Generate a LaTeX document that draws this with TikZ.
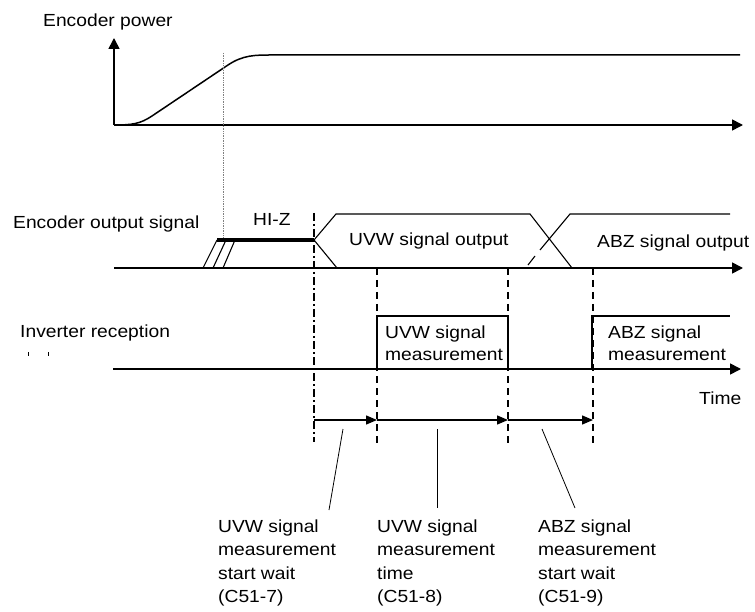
\documentclass[tikz,border=0pt]{standalone}
\usepackage{fontspec}
\setmainfont{Liberation Sans}[FakeStretch=1.1]
\usetikzlibrary{arrows.meta}
\begin{document}
\begin{tikzpicture}[x=1pt,y=-1pt,
  lbl/.style={font=\fontsize{17.5}{23.5}\selectfont, inner sep=0pt, anchor=base west, align=left},
  boxlbl/.style={font=\fontsize{17.5}{22}\selectfont, inner sep=0pt, anchor=base west, align=left},
  axis/.style={line width=1.6pt, -{Triangle[length=11pt,width=11pt]}},
  sig/.style={line width=1.1pt},
  dsh/.style={line width=1.1pt, dash pattern=on 7pt off 5pt},
  dshdot/.style={line width=1.1pt, dash pattern=on 8pt off 3pt on 2pt off 3pt},
  tarrow/.style={line width=1.3pt, -{Triangle[length=11pt,width=9pt]}},
  leader/.style={line width=0.8pt}]
\useasboundingbox (0,0) rectangle (755,612);
% ---------- coordinates ----------
\coordinate (o1) at (114,125);
\coordinate (o1top) at (114,38);
\coordinate (o1end) at (743,125);
\coordinate (o2) at (114,268);
\coordinate (o2end) at (743,268);
\coordinate (o3) at (113,369);
\coordinate (o3end) at (741,369);
% ---------- texts (multi-line nodes are placed by their last baseline) ----------
\node[lbl] (tpow) at (43,26.5) {Encoder power};
\node[lbl] (tenc) at (13,229) {Encoder output signal};
\node[lbl] (thiz) at (253,226) {HI-Z};
\node[lbl] (tuvwo) at (349,246) {UVW signal output};
\node[lbl] (tabzo) at (597,247.5) {ABZ signal output};
\node[lbl] (tinv) at (20,337.5) {Inverter reception};
\node[boxlbl] (tuvwm) at (385,360) {UVW signal\\measurement};
\node[boxlbl] (tabzm) at (608,360) {ABZ signal\\measurement};
\node[lbl] (ttime) at (699,404) {Time};
\node[lbl] (tc7) at (218,602.5) {UVW signal\\measurement\\start wait\\(C51-7)};
\node[lbl] (tc8) at (377,602.5) {UVW signal\\measurement\\time\\(C51-8)};
\node[lbl] (tc9) at (538,602.5) {ABZ signal\\measurement\\start wait\\(C51-9)};
% clipped remnants below "Inverter reception"
\draw[line width=0.8pt] (28,352) -- (28,356) (48,352) -- (48,356);
% ---------- encoder power ----------
\draw[axis] (o1) -- (o1top);
\draw[axis] (o1) -- (o1end);
\draw[line width=1.5pt] (o1) .. controls (132,125) and (140,124) .. (152,116)
  -- (228,65) .. controls (243,55) and (255,55) .. (272,55) -- (740,55);
\draw[densely dotted, gray, line width=0.7pt] (223,53) -- (223,238);
% ---------- encoder output signal ----------
\draw[axis] (o2) -- (o2end);
\draw[line width=3.6pt] (217,240) -- (314,240);
\draw[sig] (203,268) -- (217,240) (213,268) -- (226,240) (223,268) -- (235,240);
\draw[sig] (337,268) -- (314,240) -- (336,214) -- (530,214) -- (572,268);
\draw[sig] (528,265) -- (535,256) (540,250) -- (570,214) -- (730,214);
% ---------- inverter reception ----------
\draw[axis] (o3) -- (o3end);
\draw[sig] (377,369) -- (377,316) -- (508,316) -- (508,369);
\draw[sig] (592,369) -- (592,316) -- (730,316);
% ---------- vertical markers ----------
\coordinate (v0t) at (314,213); \coordinate (v0b) at (314,442);
\coordinate (v1t) at (377,268); \coordinate (v1b) at (377,445);
\coordinate (v2t) at (508,268); \coordinate (v2b) at (508,445);
\coordinate (v3t) at (593,268); \coordinate (v3b) at (593,445);
\draw[dshdot] (v0t) -- (v0b);
\draw[dsh] (v1t) -- (v1b);
\draw[dsh] (v2t) -- (v2b);
\draw[dsh] (v3t) -- (v3b);
% ---------- time intervals ----------
\coordinate (a0) at (314,420);
\coordinate (a1) at (377,420);
\coordinate (a2) at (508,420);
\coordinate (a3) at (593,420);
\draw[tarrow] (a0) -- (a1);
\draw[tarrow] (a1) -- (a2);
\draw[tarrow] (a2) -- (a3);
% ---------- leaders ----------
\draw[leader] (343,429) -- (329,510);
\draw[leader] (437,429) -- (437,508);
\draw[leader] (542,429) -- (575,508);
\end{tikzpicture}
\end{document}
